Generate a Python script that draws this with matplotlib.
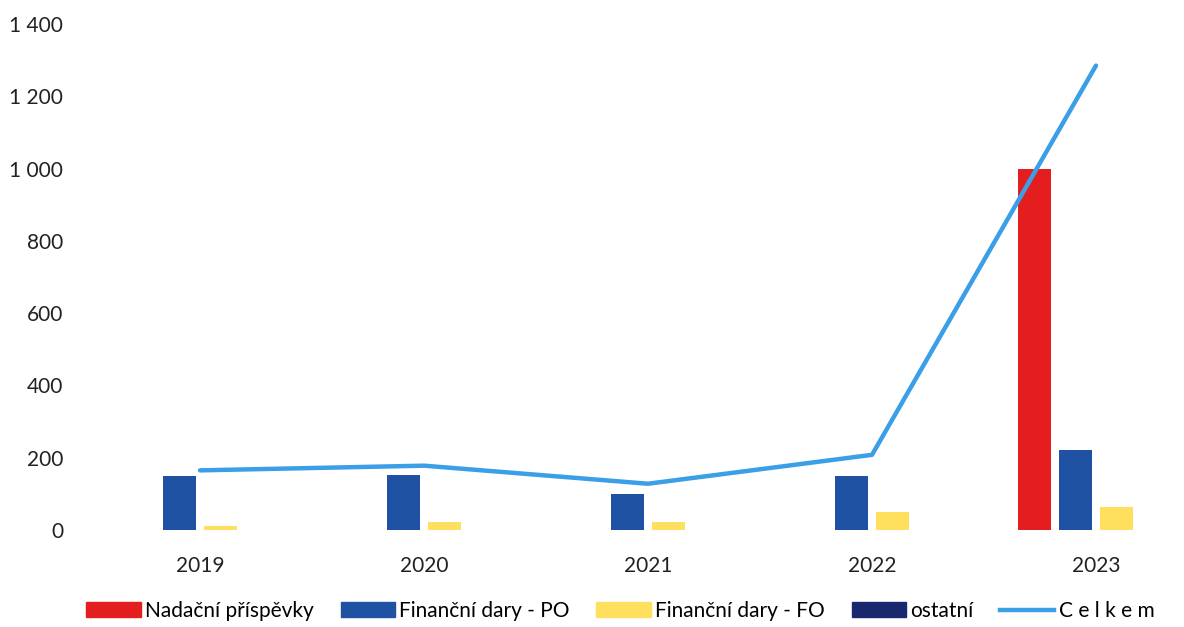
import numpy as np
import matplotlib.pyplot as plt
from matplotlib.patches import Patch
from matplotlib.lines import Line2D
from matplotlib.ticker import FuncFormatter

plt.rcParams["font.family"] = ["Lato", "DejaVu Sans"]

# Data (thousands CZK)
years = ["2019", "2020", "2021", "2022", "2023"]
nadacni = [0, 0, 0, 0, 1000]
dary_po = [150, 152, 100, 150, 222]
dary_fo = [12, 22, 22, 50, 65]
ostatni = [0, 0, 0, 0, 0]
celkem = [165, 178, 128, 208, 1285]

series = [
    ("Nadační příspěvky", nadacni, "#E41E1E"),
    ("Finanční dary - PO", dary_po, "#1F52A3"),
    ("Finanční dary - FO", dary_fo, "#FFDF5E"),
    ("ostatní", ostatni, "#18286E"),
]

fig = plt.figure(figsize=(11.84, 6.27), dpi=100)
ax = fig.add_axes([88 / 1184, 1 - 530 / 627, 1096 / 1184, 506 / 627])

x = np.arange(len(years))
step = 0.183
width = 0.143
for i, (label, vals, color) in enumerate(series):
    ax.bar(x + (i - 1.5) * step, vals, width, color=color, label=label)

ax.plot(x, celkem, color="#3A9FE6", lw=3.2, solid_capstyle="round", zorder=3)

ax.set_xlim(-0.5, -0.5 + 1096 / 224)
ax.set_ylim(0, 1400)
ax.set_yticks(range(0, 1401, 200))
ax.yaxis.set_major_formatter(FuncFormatter(lambda v, p: f"{int(v):,}".replace(",", " ")))
ax.set_xticks(x)
ax.set_xticklabels(years)
ax.tick_params(axis="both", length=0, labelsize=15, colors="#222222")
ax.tick_params(axis="x", pad=19)
ax.tick_params(axis="y", pad=18)
for s in ax.spines.values():
    s.set_visible(False)

handles = [Patch(color=c) for _, _, c in series]
handles.append(Line2D([], [], color="#3A9FE6", lw=3.2))
labels = [s[0] for s in series] + ["C e l k e m"]
fig.legend(handles, labels, loc="center", bbox_to_anchor=(0.524, 1 - 611 / 627),
           ncol=5, frameon=False, fontsize=15, handlelength=2.6, handleheight=0.7,
           handletextpad=0.2, columnspacing=1.3)

fig.savefig("out.png", dpi=100)
